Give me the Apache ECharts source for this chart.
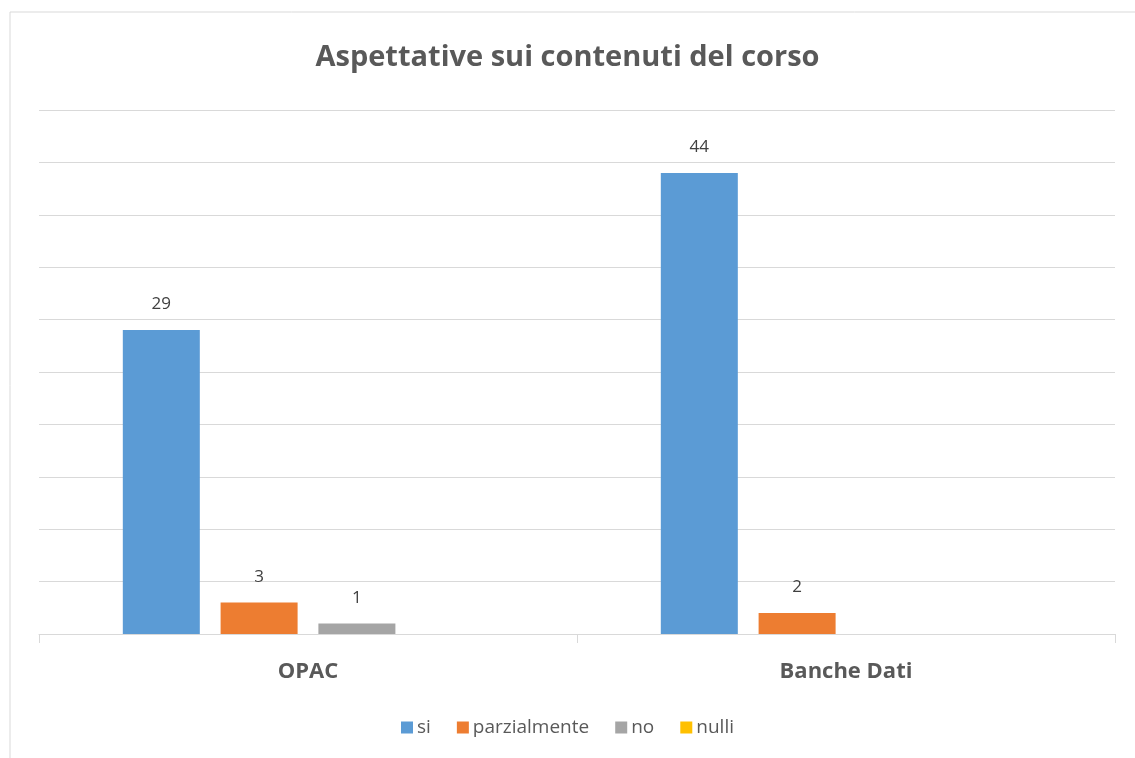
<!DOCTYPE html>
<html>
<head>
<meta charset="utf-8">
<script src="https://cdn.jsdelivr.net/npm/echarts@6/dist/echarts.min.js"></script>
<style>
  html, body { margin: 0; padding: 0; background: #fff; }
  #chart { width: 1135px; height: 758px; }
</style>
</head>
<body>
<div id="chart"></div>
<script>
const categories = ["OPAC", "Banche Dati"];
const seriesNames = ["si", "parzialmente", "no", "nulli"];
const siValues = [29, 44];
const parzialmenteValues = [3, 2];
const noValues = [1, null];
const nulliValues = [null, null];
const colors = ["#5B9BD5", "#ED7D31", "#A5A5A5", "#FFC000"];

const chart = echarts.init(document.getElementById("chart"));

const seriesData = [siValues, parzialmenteValues, noValues, nulliValues];

const option = {
  color: colors,
  textStyle: { fontFamily: "Open Sans" },
  graphic: [
    {
      type: "rect",
      shape: { x: 10, y: 12, width: 1200, height: 800 },
      style: { fill: "none", stroke: "#D9D9D9", lineWidth: 1 },
      silent: true,
    },
  ],
  title: {
    text: "Aspettative sui contenuti del corso",
    left: "center",
    top: 38,
    textStyle: {
      fontSize: 29,
      fontWeight: "bold",
      color: "#595959",
      fontFamily: "Open Sans",
    },
  },
  legend: {
    bottom: 16,
    left: "center",
    itemWidth: 12,
    itemHeight: 12,
    itemGap: 26,
    icon: "rect",
    data: seriesNames,
    textStyle: { fontSize: 19, color: "#595959", padding: [0, 0, 0, -1] },
  },
  grid: { left: 39, right: 20, top: 110, bottom: 124 },
  xAxis: {
    type: "category",
    data: categories,
    axisLine: { lineStyle: { color: "#D9D9D9", width: 1 } },
    axisTick: { show: true, length: 9, lineStyle: { color: "#D9D9D9" } },
    axisLabel: {
      fontSize: 22,
      fontWeight: "bold",
      color: "#595959",
      margin: 27,
    },
  },
  yAxis: {
    type: "value",
    min: 0,
    max: 50,
    interval: 5,
    axisLine: { show: false },
    axisTick: { show: false },
    axisLabel: { show: false },
    splitLine: { lineStyle: { color: "#D9D9D9", width: 1 } },
  },
  series: seriesNames.map((name, i) => ({
    name: name,
    type: "bar",
    data: seriesData[i],
    barWidth: 77,
    barGap: "27%",
    label: {
      show: true,
      position: "top",
      distance: 17,
      fontSize: 17,
      color: "#404040",
    },
  })),
};

chart.setOption(option);
</script>
</body>
</html>
